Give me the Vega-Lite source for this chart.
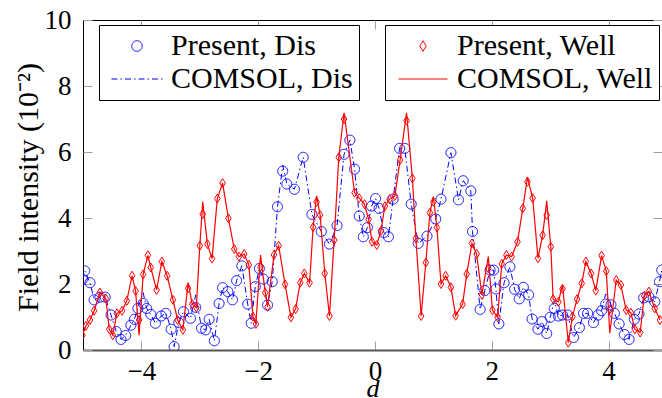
{
  "$schema": "https://vega.github.io/schema/vega-lite/v6.json",
  "width": 579,
  "height": 330,
  "autosize": {"type": "none"},
  "padding": {"left": 83, "top": 20, "right": 0, "bottom": 48},
  "background": "white",
  "config": {
    "view": {"stroke": "black", "strokeWidth": 1},
    "font": "Liberation Serif",
    "axis": {
      "grid": false,
      "labelFont": "Liberation Serif",
      "labelFontSize": 27,
      "labelColor": "black",
      "tickColor": "#a0a0a0",
      "tickSize": -9,
      "tickWidth": 1,
      "domain": false,
      "titleFont": "Liberation Serif",
      "titleFontSize": 30,
      "titleFontWeight": "normal",
      "titleColor": "black"
    },
    "legend": {"labelFont": "Liberation Serif", "labelLimit": 0}
  },
  "resolve": {"scale": {"stroke": "independent", "shape": "independent", "strokeDash": "independent", "color": "independent"}},
  "datasets": {
    "dis": [
      {"d": -5.01, "p": 2.14, "c": 2.14}, {"d": -4.97, "p": 2.40, "c": 2.40}, {"d": -4.88, "p": 2.04, "c": 2.04},
      {"d": -4.81, "p": 1.52, "c": 1.52}, {"d": -4.71, "p": 1.60, "c": 1.60}, {"d": -4.62, "p": 1.60, "c": 1.60},
      {"d": -4.52, "p": 1.06, "c": 1.06}, {"d": -4.43, "p": 0.56, "c": 0.56}, {"d": -4.35, "p": 0.32, "c": 0.32},
      {"d": -4.27, "p": 0.44, "c": 0.44}, {"d": -4.18, "p": 0.75, "c": 0.75}, {"d": -4.12, "p": 0.93, "c": 0.93},
      {"d": -4.06, "p": 1.26, "c": 1.26}, {"d": -3.97, "p": 1.41, "c": 1.74}, {"d": -3.91, "p": 1.26, "c": 1.26},
      {"d": -3.84, "p": 1.08, "c": 1.08}, {"d": -3.76, "p": 0.81, "c": 0.81}, {"d": -3.66, "p": 1.03, "c": 1.03},
      {"d": -3.58, "p": 1.11, "c": 1.11}, {"d": -3.49, "p": 0.63, "c": 0.63}, {"d": -3.44, "p": 0.10, "c": 0.10},
      {"d": -3.36, "p": 0.83, "c": 0.83}, {"d": -3.28, "p": 1.16, "c": 1.16}, {"d": -3.16, "p": 0.96, "c": 0.96},
      {"d": -3.07, "p": 1.29, "c": 1.67}, {"d": -2.97, "p": 0.66, "c": 0.66}, {"d": -2.90, "p": 0.61, "c": 0.61},
      {"d": -2.84, "p": 0.93, "c": 0.93}, {"d": -2.75, "p": 0.28, "c": 0.28}, {"d": -2.67, "p": 1.41, "c": 1.41},
      {"d": -2.61, "p": 1.89, "c": 1.89}, {"d": -2.52, "p": 1.77, "c": 1.77}, {"d": -2.44, "p": 1.52, "c": 1.52},
      {"d": -2.37, "p": 2.10, "c": 2.10}, {"d": -2.28, "p": 2.55, "c": 2.55}, {"d": -2.18, "p": 1.39, "c": 1.39},
      {"d": -2.12, "p": 0.81, "c": 0.81}, {"d": -2.05, "p": 1.92, "c": 1.92}, {"d": -1.98, "p": 2.47, "c": 2.47},
      {"d": -1.91, "p": 2.15, "c": 2.15}, {"d": -1.84, "p": 1.36, "c": 1.36}, {"d": -1.76, "p": 2.07, "c": 2.07},
      {"d": -1.67, "p": 4.34, "c": 4.34}, {"d": -1.58, "p": 5.42, "c": 5.60}, {"d": -1.51, "p": 5.03, "c": 5.03},
      {"d": -1.38, "p": 4.87, "c": 4.87}, {"d": -1.23, "p": 5.84, "c": 5.84}, {"d": -1.08, "p": 4.11, "c": 4.11},
      {"d": -0.92, "p": 3.59, "c": 3.59}, {"d": -0.78, "p": 3.21, "c": 3.21}, {"d": -0.65, "p": 3.77, "c": 3.77},
      {"d": -0.53, "p": 5.93, "c": 5.93}, {"d": -0.43, "p": 6.36, "c": 6.36}, {"d": -0.35, "p": 5.48, "c": 5.48},
      {"d": -0.27, "p": 4.06, "c": 4.06}, {"d": -0.20, "p": 3.43, "c": 3.43}, {"d": -0.13, "p": 3.71, "c": 3.71},
      {"d": -0.06, "p": 4.36, "c": 4.36}, {"d": 0.01, "p": 4.59, "c": 4.59}, {"d": 0.07, "p": 4.29, "c": 4.29},
      {"d": 0.15, "p": 3.56, "c": 3.56}, {"d": 0.23, "p": 3.43, "c": 3.43}, {"d": 0.31, "p": 4.57, "c": 4.57},
      {"d": 0.42, "p": 6.11, "c": 6.11}, {"d": 0.51, "p": 6.11, "c": 6.11}, {"d": 0.62, "p": 4.42, "c": 4.42},
      {"d": 0.74, "p": 3.23, "c": 3.23}, {"d": 0.89, "p": 3.45, "c": 3.45}, {"d": 1.04, "p": 3.97, "c": 3.97},
      {"d": 1.13, "p": 4.57, "c": 4.57}, {"d": 1.30, "p": 5.98, "c": 5.98}, {"d": 1.43, "p": 4.55, "c": 4.55},
      {"d": 1.51, "p": 5.13, "c": 5.13}, {"d": 1.64, "p": 4.82, "c": 4.82}, {"d": 1.67, "p": 3.59, "c": 3.59},
      {"d": 1.80, "p": 1.23, "c": 1.23}, {"d": 1.88, "p": 1.80, "c": 1.80}, {"d": 1.97, "p": 2.42, "c": 2.42},
      {"d": 2.03, "p": 2.42, "c": 2.42}, {"d": 2.07, "p": 1.85, "c": 1.85}, {"d": 2.12, "p": 0.79, "c": 0.79},
      {"d": 2.21, "p": 2.04, "c": 2.04}, {"d": 2.31, "p": 2.52, "c": 2.52}, {"d": 2.39, "p": 1.84, "c": 1.84},
      {"d": 2.47, "p": 1.55, "c": 1.55}, {"d": 2.54, "p": 1.90, "c": 1.90}, {"d": 2.63, "p": 1.67, "c": 1.67},
      {"d": 2.69, "p": 0.94, "c": 0.94}, {"d": 2.79, "p": 0.63, "c": 0.63}, {"d": 2.86, "p": 0.86, "c": 0.86},
      {"d": 2.94, "p": 0.50, "c": 0.50}, {"d": 3.00, "p": 0.99, "c": 0.99}, {"d": 3.07, "p": 1.26, "c": 1.50},
      {"d": 3.14, "p": 1.03, "c": 1.03}, {"d": 3.21, "p": 1.06, "c": 1.06}, {"d": 3.30, "p": 1.06, "c": 1.06},
      {"d": 3.40, "p": 0.38, "c": 0.38}, {"d": 3.50, "p": 0.68, "c": 0.68}, {"d": 3.57, "p": 1.11, "c": 1.11},
      {"d": 3.64, "p": 1.11, "c": 1.11}, {"d": 3.74, "p": 0.83, "c": 0.83}, {"d": 3.82, "p": 1.06, "c": 1.06},
      {"d": 3.88, "p": 1.19, "c": 1.19}, {"d": 3.95, "p": 1.39, "c": 1.70}, {"d": 4.04, "p": 1.37, "c": 1.37},
      {"d": 4.10, "p": 1.11, "c": 1.11}, {"d": 4.18, "p": 0.79, "c": 0.79}, {"d": 4.27, "p": 0.47, "c": 0.47},
      {"d": 4.35, "p": 0.32, "c": 0.32}, {"d": 4.44, "p": 0.93, "c": 0.93}, {"d": 4.52, "p": 1.09, "c": 1.09},
      {"d": 4.60, "p": 1.58, "c": 1.58}, {"d": 4.69, "p": 1.61, "c": 1.61}, {"d": 4.79, "p": 1.46, "c": 1.46},
      {"d": 4.87, "p": 2.07, "c": 2.07}, {"d": 4.91, "p": 2.42, "c": 2.42}
    ],
    "well": [
      {"d": -5.01, "p": 0.45, "c": 0.45}, {"d": -4.95, "p": 0.73, "c": 0.73}, {"d": -4.88, "p": 0.91, "c": 0.91},
      {"d": -4.81, "p": 1.19, "c": 1.19}, {"d": -4.71, "p": 1.74, "c": 1.74}, {"d": -4.61, "p": 1.56, "c": 1.56},
      {"d": -4.55, "p": 0.63, "c": 0.63}, {"d": -4.49, "p": 0.45, "c": 0.45}, {"d": -4.42, "p": 1.11, "c": 1.11},
      {"d": -4.33, "p": 1.19, "c": 1.19}, {"d": -4.25, "p": 1.49, "c": 1.49}, {"d": -4.16, "p": 2.25, "c": 2.25},
      {"d": -4.10, "p": 1.79, "c": 1.79}, {"d": -4.04, "p": 0.91, "c": 0.45}, {"d": -3.97, "p": 2.29, "c": 2.29},
      {"d": -3.89, "p": 2.87, "c": 2.87}, {"d": -3.84, "p": 2.50, "c": 2.50}, {"d": -3.74, "p": 1.82, "c": 1.82},
      {"d": -3.65, "p": 2.68, "c": 2.68}, {"d": -3.56, "p": 2.25, "c": 2.25}, {"d": -3.46, "p": 1.52, "c": 1.52},
      {"d": -3.38, "p": 0.91, "c": 0.91}, {"d": -3.29, "p": 0.61, "c": 0.61}, {"d": -3.20, "p": 1.87, "c": 2.04},
      {"d": -3.13, "p": 1.39, "c": 1.39}, {"d": -3.06, "p": 1.29, "c": 1.29}, {"d": -3.00, "p": 3.16, "c": 3.16},
      {"d": -2.95, "p": 4.12, "c": 4.49}, {"d": -2.87, "p": 3.21, "c": 3.21}, {"d": -2.79, "p": 2.77, "c": 2.77},
      {"d": -2.70, "p": 4.59, "c": 4.59}, {"d": -2.61, "p": 5.06, "c": 5.06}, {"d": -2.51, "p": 3.99, "c": 3.99},
      {"d": -2.41, "p": 3.06, "c": 3.06}, {"d": -2.33, "p": 2.83, "c": 2.83}, {"d": -2.24, "p": 2.91, "c": 2.91},
      {"d": -2.16, "p": 2.58, "c": 2.58}, {"d": -2.09, "p": 1.01, "c": 1.01}, {"d": -2.04, "p": 0.79, "c": 0.79},
      {"d": -1.96, "p": 2.52, "c": 2.88}, {"d": -1.88, "p": 1.74, "c": 1.74}, {"d": -1.84, "p": 1.31, "c": 1.31},
      {"d": -1.73, "p": 2.88, "c": 2.88}, {"d": -1.65, "p": 3.16, "c": 3.16}, {"d": -1.54, "p": 1.99, "c": 1.99},
      {"d": -1.44, "p": 0.99, "c": 0.99}, {"d": -1.36, "p": 1.24, "c": 1.24}, {"d": -1.28, "p": 2.04, "c": 2.04},
      {"d": -1.21, "p": 2.32, "c": 2.32}, {"d": -1.12, "p": 2.04, "c": 2.04}, {"d": -1.06, "p": 3.72, "c": 3.72},
      {"d": -1.00, "p": 4.49, "c": 4.67}, {"d": -0.94, "p": 4.09, "c": 4.09}, {"d": -0.86, "p": 2.32, "c": 2.32},
      {"d": -0.78, "p": 1.03, "c": 1.03}, {"d": -0.70, "p": 3.33, "c": 3.33}, {"d": -0.62, "p": 5.84, "c": 5.84},
      {"d": -0.53, "p": 7.00, "c": 7.19}, {"d": -0.35, "p": 4.77, "c": 4.77}, {"d": -0.27, "p": 4.60, "c": 4.60},
      {"d": -0.18, "p": 4.42, "c": 4.42}, {"d": -0.11, "p": 3.96, "c": 3.96}, {"d": -0.05, "p": 3.28, "c": 3.28},
      {"d": 0.03, "p": 3.18, "c": 3.18}, {"d": 0.10, "p": 3.61, "c": 3.61}, {"d": 0.17, "p": 4.36, "c": 4.36},
      {"d": 0.25, "p": 4.57, "c": 4.57}, {"d": 0.34, "p": 4.67, "c": 4.67}, {"d": 0.43, "p": 5.76, "c": 5.76},
      {"d": 0.54, "p": 6.95, "c": 7.19}, {"d": 0.64, "p": 5.20, "c": 5.20}, {"d": 0.70, "p": 3.38, "c": 3.38},
      {"d": 0.79, "p": 1.03, "c": 1.03}, {"d": 0.87, "p": 2.65, "c": 2.65}, {"d": 0.94, "p": 4.16, "c": 4.16},
      {"d": 1.00, "p": 4.49, "c": 4.65}, {"d": 1.06, "p": 3.71, "c": 3.71}, {"d": 1.13, "p": 2.00, "c": 2.00},
      {"d": 1.21, "p": 2.25, "c": 2.25}, {"d": 1.30, "p": 1.90, "c": 1.90}, {"d": 1.38, "p": 1.04, "c": 1.04},
      {"d": 1.50, "p": 1.39, "c": 1.39}, {"d": 1.57, "p": 2.30, "c": 2.30}, {"d": 1.66, "p": 3.23, "c": 3.23},
      {"d": 1.74, "p": 2.91, "c": 2.91}, {"d": 1.83, "p": 1.67, "c": 1.67}, {"d": 1.94, "p": 2.47, "c": 2.83},
      {"d": 2.01, "p": 1.21, "c": 1.21}, {"d": 2.10, "p": 0.99, "c": 0.99}, {"d": 2.17, "p": 2.61, "c": 2.61},
      {"d": 2.25, "p": 2.88, "c": 2.88}, {"d": 2.34, "p": 2.83, "c": 2.83}, {"d": 2.44, "p": 3.28, "c": 3.28},
      {"d": 2.53, "p": 4.29, "c": 4.29}, {"d": 2.61, "p": 5.10, "c": 5.23}, {"d": 2.70, "p": 4.60, "c": 4.60},
      {"d": 2.79, "p": 2.78, "c": 2.78}, {"d": 2.87, "p": 3.48, "c": 3.48}, {"d": 2.94, "p": 4.09, "c": 4.52},
      {"d": 3.01, "p": 3.13, "c": 3.13}, {"d": 3.05, "p": 1.54, "c": 1.54}, {"d": 3.14, "p": 1.46, "c": 1.46},
      {"d": 3.21, "p": 1.85, "c": 1.97}, {"d": 3.31, "p": 0.22, "c": 0.22}, {"d": 3.38, "p": 1.01, "c": 1.01},
      {"d": 3.46, "p": 1.54, "c": 1.54}, {"d": 3.54, "p": 2.02, "c": 2.02}, {"d": 3.61, "p": 2.68, "c": 2.68},
      {"d": 3.70, "p": 2.32, "c": 2.32}, {"d": 3.78, "p": 1.80, "c": 1.80}, {"d": 3.88, "p": 2.86, "c": 2.86},
      {"d": 3.96, "p": 2.39, "c": 2.39}, {"d": 4.02, "p": 1.23, "c": 0.51}, {"d": 4.13, "p": 2.12, "c": 2.12},
      {"d": 4.21, "p": 1.97, "c": 1.97}, {"d": 4.30, "p": 1.21, "c": 1.21}, {"d": 4.38, "p": 1.13, "c": 1.13},
      {"d": 4.45, "p": 0.63, "c": 0.63}, {"d": 4.54, "p": 0.53, "c": 0.53}, {"d": 4.61, "p": 1.64, "c": 1.64},
      {"d": 4.69, "p": 1.77, "c": 1.77}, {"d": 4.79, "p": 1.26, "c": 1.26}, {"d": 4.88, "p": 0.91, "c": 0.91}
    ]
  },
  "layer": [
    {
      "data": {"name": "dis"},
      "mark": {"type": "point", "filled": false, "size": 100, "strokeWidth": 1, "opacity": 1, "clip": true},
      "encoding": {
        "x": {
          "field": "d", "type": "quantitative",
          "scale": {"domain": [-5, 4.914], "nice": false, "zero": false},
          "axis": {
            "orient": "bottom", "values": [-4, -2, 0, 2, 4], "title": "d",
            "titleFontStyle": "italic", "titleFontSize": 26, "titleY": 46, "titleBaseline": "alphabetic",
            "labelPadding": 17, "labelFlush": false, "labelFont": "Liberation Serif",
            "domain": true, "domainColor": "#555555", "domainWidth": 2
          }
        },
        "y": {
          "field": "p", "type": "quantitative",
          "scale": {"domain": [0, 10], "nice": false, "zero": false},
          "axis": {
            "orient": "left", "values": [0, 2, 4, 6, 8, 10],
            "title": "Field intensity (10⁻²)",
            "titleX": -46, "titleY": 167, "titleAngle": 270, "titleBaseline": "alphabetic", "titleAlign": "center",
            "labelPadding": 21, "labelFlush": false, "labelFont": "Liberation Serif"
          }
        },
        "stroke": {
          "datum": "Present, Dis", "type": "nominal",
          "scale": {"domain": ["Present, Dis", "COMSOL, Dis"], "range": ["#0000ff", "#0000ff"]},
          "legend": {
            "orient": "none", "legendX": 16, "legendY": 5, "title": null, "direction": "vertical",
            "padding": 6, "strokeColor": "black", "fillColor": "white", "cornerRadius": 0,
            "symbolSize": 110, "symbolOffset": 17, "labelOffset": 19, "rowPadding": 3,
            "symbolStrokeWidth": 1,
            "labelFont": "Liberation Serif", "labelFontSize": 30, "labelColor": "black", "labelLimit": 0,
            "labelExpr": "datum.label + '\u00a0\u00a0'"
          }
        },
        "shape": {
          "datum": "Present, Dis", "type": "nominal",
          "scale": {"domain": ["Present, Dis", "COMSOL, Dis"], "range": ["circle", "M-4.86,0H4.86"]},
          "legend": {
            "orient": "none", "legendX": 16, "legendY": 5, "title": null, "direction": "vertical",
            "padding": 6, "strokeColor": "black", "fillColor": "white", "cornerRadius": 0,
            "symbolSize": 110, "symbolOffset": 17, "labelOffset": 19, "rowPadding": 3,
            "symbolStrokeWidth": 1,
            "labelFont": "Liberation Serif", "labelFontSize": 30, "labelColor": "black", "labelLimit": 0,
            "labelExpr": "datum.label + '\u00a0\u00a0'"
          }
        },
        "strokeDash": {
          "datum": "Present, Dis", "type": "nominal",
          "scale": {"domain": ["Present, Dis", "COMSOL, Dis"], "range": [[1, 0], [6, 3, 1.5, 3]]},
          "legend": {
            "orient": "none", "legendX": 16, "legendY": 5, "title": null, "direction": "vertical",
            "padding": 6, "strokeColor": "black", "fillColor": "white", "cornerRadius": 0,
            "symbolSize": 110, "symbolOffset": 17, "labelOffset": 19, "rowPadding": 3,
            "symbolStrokeWidth": 1,
            "labelFont": "Liberation Serif", "labelFontSize": 30, "labelColor": "black", "labelLimit": 0,
            "labelExpr": "datum.label + '\u00a0\u00a0'"
          }
        }
      }
    },
    {
      "data": {"name": "dis"},
      "mark": {"type": "line", "strokeDash": [6, 3, 1.5, 3], "strokeWidth": 1, "clip": true},
      "encoding": {
        "x": {"field": "d", "type": "quantitative", "axis": {"orient": "top", "values": [-4, -2, 0, 2, 4], "labels": false, "title": null, "domain": false}},
        "y": {"field": "c", "type": "quantitative", "axis": {"orient": "right", "values": [0, 2, 4, 6, 8, 10], "labels": false, "title": null, "domain": false}},
        "stroke": {"datum": "COMSOL, Dis", "type": "nominal", "scale": {"domain": ["Present, Dis", "COMSOL, Dis"], "range": ["#0000ff", "#0000ff"]}, "legend": null}
      }
    },
    {
      "data": {"name": "well"},
      "mark": {"type": "point", "filled": false, "size": 81, "strokeWidth": 1, "opacity": 1, "clip": true},
      "encoding": {
        "x": {"field": "d", "type": "quantitative", "axis": null},
        "y": {"field": "p", "type": "quantitative", "axis": null},
        "color": {
          "datum": "Present, Well", "type": "nominal",
          "scale": {"domain": ["Present, Well", "COMSOL, Well"], "range": ["#ff0000", "#ff0000"]},
          "legend": {
            "orient": "none", "legendX": 302, "legendY": 5, "title": null, "direction": "vertical",
            "padding": 6, "strokeColor": "black", "fillColor": "white", "cornerRadius": 0,
            "symbolSize": 110, "symbolOffset": 17, "labelOffset": 19, "rowPadding": 3,
            "symbolStrokeWidth": 1,
            "labelFont": "Liberation Serif", "labelFontSize": 30, "labelColor": "black", "labelLimit": 0,
            "labelExpr": "datum.label + '\u00a0\u2009'"
          }
        },
        "shape": {
          "datum": "Present, Well", "type": "nominal",
          "scale": {"domain": ["Present, Well", "COMSOL, Well"], "range": ["M0,-1L0.62,0L0,1L-0.62,0Z", "M-4.67,0H4.67"]},
          "legend": {
            "orient": "none", "legendX": 302, "legendY": 5, "title": null, "direction": "vertical",
            "padding": 6, "strokeColor": "black", "fillColor": "white", "cornerRadius": 0,
            "symbolSize": 110, "symbolOffset": 17, "labelOffset": 19, "rowPadding": 3,
            "symbolStrokeWidth": 1,
            "labelFont": "Liberation Serif", "labelFontSize": 30, "labelColor": "black", "labelLimit": 0,
            "labelExpr": "datum.label + '\u00a0\u2009'"
          }
        }
      }
    },
    {
      "data": {"name": "well"},
      "mark": {"type": "line", "strokeWidth": 1.2, "clip": true},
      "encoding": {
        "x": {"field": "d", "type": "quantitative", "axis": null},
        "y": {"field": "c", "type": "quantitative", "axis": null},
        "color": {"datum": "COMSOL, Well", "type": "nominal", "scale": {"domain": ["Present, Well", "COMSOL, Well"], "range": ["#ff0000", "#ff0000"]}, "legend": null}
      }
    }
  ]
}
